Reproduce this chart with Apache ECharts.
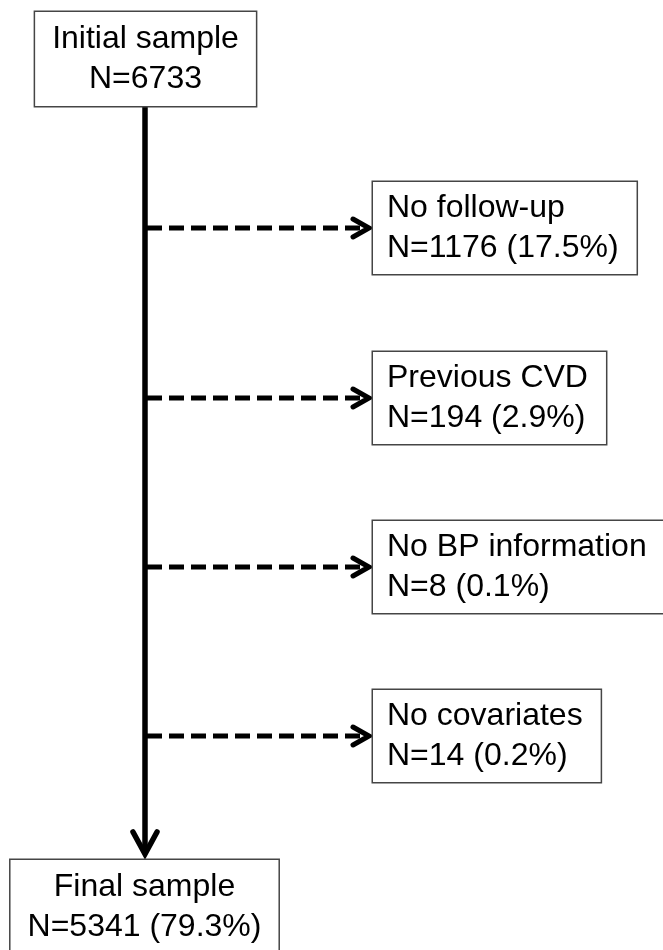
<!DOCTYPE html>
<html><head><meta charset="utf-8">
<script src="https://cdn.jsdelivr.net/npm/echarts@6/dist/echarts.min.js"></script>
<style>html,body{margin:0;padding:0;background:#fff}#c{width:663px;height:950px}</style>
</head><body><div id="c"></div>
<script>
// ---- data ----
const stageLabels = ['Initial sample', 'Final sample'];
const stageN = [6733, 5341];
const stagePct = [null, '79.3%'];
const exclusionLabels = ['No follow-up', 'Previous CVD', 'No BP information', 'No covariates'];
const exclusionN = [1176, 194, 8, 14];
const exclusionPct = ['17.5%', '2.9%', '0.1%', '0.2%'];

// ---- layout (units of the hidden axes) ----
const W = 663, H = 950;
const trunkX = 145;
const stageCenterX = [145.5, 144.5];
const stageAnchorY = [12, 860];
const trunkTop = 106, trunkTip = 857;
const branchY = [228, 398, 567, 736];
const branchLeft = 373;

const FONT = '32px "Liberation Sans", Arial, sans-serif';
const BORDER = '#454545';

const chart = echarts.init(document.getElementById('c'), null, {renderer: 'canvas'});

function stageText(i) {
  return stageLabels[i] + '\nN=' + stageN[i] + (stagePct[i] ? ' (' + stagePct[i] + ')' : '');
}
function exclText(i) {
  return exclusionLabels[i] + '\nN=' + exclusionN[i] + ' (' + exclusionPct[i] + ')';
}

const option = {
  animation: false,
  backgroundColor: '#fff',
  grid: {left: 0, right: 0, top: 0, bottom: 0},
  xAxis: {type: 'value', min: 0, max: W, show: false},
  yAxis: {type: 'value', min: 0, max: H, inverse: true, show: false},
  series: [
    {
      // main vertical flow arrow
      type: 'custom', clip: false, z: 1,
      data: [[trunkX, trunkTop, trunkTip]],
      renderItem: function (params, api) {
        const x = api.value(0);
        const p0 = api.coord([x, api.value(1)]);
        const p1 = api.coord([x, api.value(2) - 3]);
        const tip = api.coord([x, api.value(2) - 3]);
        const a1 = api.coord([x - 12, api.value(2) - 25]);
        const a2 = api.coord([x + 12, api.value(2) - 25]);
        return {type: 'group', children: [
          {type: 'line', shape: {x1: p0[0], y1: p0[1], x2: p1[0], y2: p1[1]},
           style: {stroke: '#000', lineWidth: 5.5}},
          {type: 'polyline', shape: {points: [a1, tip, a2]},
           style: {stroke: '#000', lineWidth: 5.5, fill: null, lineJoin: 'miter', lineCap: 'round'}}
        ]};
      }
    },
    {
      // exclusion branches and boxes
      type: 'custom', clip: false, z: 2,
      data: exclusionLabels.map((l, i) => [branchLeft, branchY[i], i]),
      renderItem: function (params, api) {
        const i = api.value(2);
        const bx = api.value(0), y = api.value(1);
        const p0 = api.coord([trunkX + 2, y]);
        const p1 = api.coord([bx - 6, y]);
        const tip = api.coord([bx - 4, y]);
        const a1 = api.coord([bx - 20, y - 9]);
        const a2 = api.coord([bx - 20, y + 9]);
        const boxPt = api.coord([bx, y]);
        return {type: 'group', children: [
          {type: 'line', shape: {x1: p0[0], y1: p0[1], x2: p1[0], y2: p1[1]},
           style: {stroke: '#000', lineWidth: 5, lineDash: [15, 7]}},
          {type: 'polyline', shape: {points: [a1, tip, a2]},
           style: {stroke: '#000', lineWidth: 5, fill: null, lineJoin: 'miter', lineCap: 'round'}},
          {type: 'text', x: boxPt[0], y: boxPt[1], z2: 10,
           style: {text: exclText(i), font: FONT, fill: '#000', align: 'left', verticalAlign: 'middle',
                   lineHeight: 40, padding: [6, 18, 6, 14], borderColor: BORDER, borderWidth: 1.5,
                   backgroundColor: '#fff'}}
        ]};
      }
    },
    {
      // stage boxes
      type: 'custom', clip: false, z: 3,
      data: stageLabels.map((l, i) => [stageCenterX[i], stageAnchorY[i], i]),
      renderItem: function (params, api) {
        const i = api.value(2);
        const p = api.coord([api.value(0), api.value(1)]);
        return {type: 'text', x: p[0], y: p[1],
          style: {text: stageText(i), font: FONT, fill: '#000', align: 'center', verticalAlign: 'top',
                  lineHeight: 40, padding: [7, 17, 7, 17], borderColor: BORDER, borderWidth: 1.5,
                  backgroundColor: '#fff'}};
      }
    }
  ]
};
chart.setOption(option);
</script>
</body></html>
